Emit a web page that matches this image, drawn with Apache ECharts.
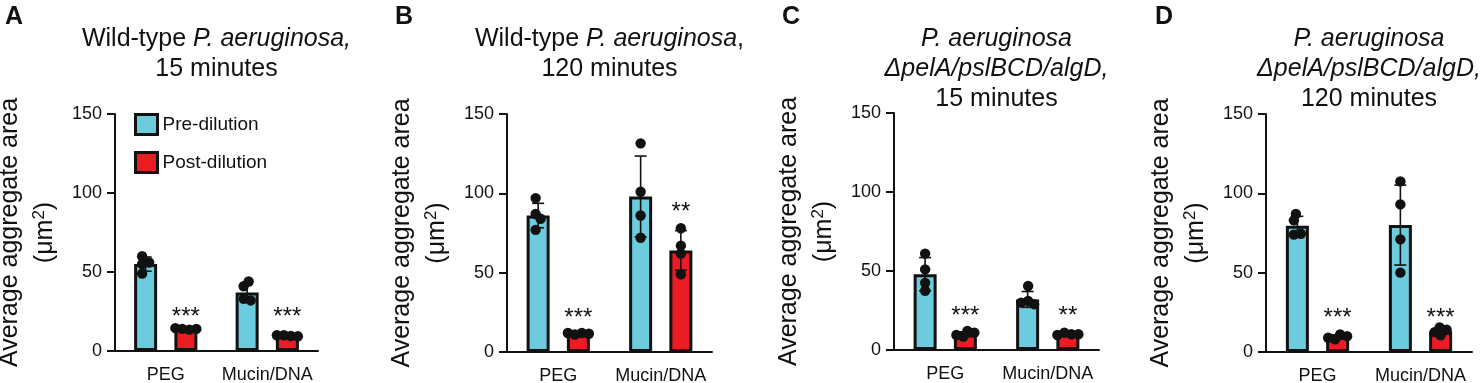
<!DOCTYPE html>
<html>
<head>
<meta charset="utf-8">
<script src="https://cdn.jsdelivr.net/npm/echarts@6/dist/echarts.min.js"></script>
<style>
  html, body { margin: 0; padding: 0; background: #fff; }
  #chart { width: 1482px; height: 383px; }
</style>
</head>
<body>
<div id="chart"></div>
<script>
// ---- data ----
const categories = ['PEG', 'Mucin/DNA'];
const seriesNames = ['Pre-dilution', 'Post-dilution'];

// A: wild-type, 15 min
const aPreMean = [55, 37];
const aPreSD = [4.5, 5.5];
const aPrePts = [[60, 55, 56, 49], [41, 44, 33, 32]];
const aPostMean = [14, 9.7];
const aPostSD = [0.5, 0.5];
const aPostPts = [[14, 13.5, 14.5, 14], [10, 9.5, 10, 9.3]];
const aSig = ['***', '***'];
const aSigY = [23, 23];

// B: wild-type, 120 min
const bPreMean = [86, 98];
const bPreSD = [7.7, 25.5];
const bPrePts = [[97, 87, 84, 77], [131.5, 101, 86, 72]];
const bPostMean = [11.5, 64];
const bPostSD = [0.6, 12.5];
const bPostPts = [[11, 12, 12, 11.5], [78, 67, 62, 49]];
const bSig = ['***', '**'];
const bSigY = [23, 90];

// C: triple mutant, 15 min
const cPreMean = [48, 32];
const cPreSD = [10.5, 5];
const cPrePts = [[61, 51, 42.5, 37.5], [40.5, 31, 29, 30]];
const cPostMean = [10, 10];
const cPostSD = [1.5, 0.6];
const cPostPts = [[12, 11, 8.5, 9.5], [11, 10, 9.5, 10]];
const cSig = ['***', '**'];
const cSigY = [23, 23];

// D: triple mutant, 120 min
const dPreMean = [79.5, 80];
const dPreSD = [6, 25.2];
const dPrePts = [[83, 87, 74, 74.5], [107.5, 93, 71, 50]];
const dPostMean = [9.5, 13];
const dPostSD = [1.3, 2];
const dPostPts = [[11, 10, 8, 9], [15.5, 14, 12.5, 10.5]];
const dSig = ['***', '***'];
const dSigY = [23, 23];

const yMax = 150;
const yStep = 50;

// ---- styles / layout ----
const FONT = 'Liberation Sans, Arial, sans-serif';
const INK = '#111';
const CYAN = '#6ccbdc';
const RED = '#ec1c24';
const BAR_W = 23;
const BAR_GAP = 0.75;
const SHIFT = BAR_W * (1 + BAR_GAP) / 2;
const DOT_R = 5.2;
const DOT_MIN = 6.5;

const panels = [
  { letter: 'A', grid: { left: 115, top: 114, width: 203, height: 237 }, letterX: 5,
    title: '{t|Wild-type }{i|P. aeruginosa,}\n{t|15 minutes}',
    preMean: aPreMean, preSD: aPreSD, prePts: aPrePts, postMean: aPostMean, postSD: aPostSD, postPts: aPostPts, sig: aSig, sigY: aSigY },
  { letter: 'B', grid: { left: 507, top: 114, width: 205, height: 238 }, letterX: 395,
    title: '{t|Wild-type }{i|P. aeruginosa}{t|,}\n{t|120 minutes}',
    preMean: bPreMean, preSD: bPreSD, prePts: bPrePts, postMean: bPostMean, postSD: bPostSD, postPts: bPostPts, sig: bSig, sigY: bSigY },
  { letter: 'C', grid: { left: 894, top: 113, width: 205, height: 237 }, letterX: 782,
    title: '{i|P. aeruginosa}\n{i|\u0394pelA/pslBCD/algD,}\n{t|15 minutes}',
    preMean: cPreMean, preSD: cPreSD, prePts: cPrePts, postMean: cPostMean, postSD: cPostSD, postPts: cPostPts, sig: cSig, sigY: cSigY },
  { letter: 'D', grid: { left: 1266, top: 114, width: 206, height: 238 }, letterX: 1155,
    title: '{i|P. aeruginosa}\n{i|\u0394pelA/pslBCD/algD,}\n{t|120 minutes}',
    preMean: dPreMean, preSD: dPreSD, prePts: dPrePts, postMean: dPostMean, postSD: dPostSD, postPts: dPostPts, sig: dSig, sigY: dSigY }
];

function marks(p, i) {
  const data = [];
  categories.forEach((c, ci) => {
    data.push([ci, 0, p.preMean[ci], p.preSD[ci]]);
    data.push([ci, 1, p.postMean[ci], p.postSD[ci]]);
  });
  return {
    type: 'custom',
    xAxisIndex: i,
    yAxisIndex: i,
    z: 5,
    silent: true,
    data: data,
    renderItem: function (params, api) {
      const ci = api.value(0), g = api.value(1);
      const mean = api.value(2), sd = api.value(3);
      const pts = (g === 0 ? p.prePts : p.postPts)[ci];
      const cx = api.coord([ci, 0])[0] + (g === 0 ? -SHIFT : SHIFT);
      const yTop = api.coord([ci, mean + sd])[1];
      const yBot = api.coord([ci, mean - sd])[1];
      const ls = { stroke: INK, lineWidth: 1.6 };
      const kids = [
        { type: 'line', shape: { x1: cx, y1: yTop, x2: cx, y2: yBot }, style: ls },
        { type: 'line', shape: { x1: cx - 6, y1: yTop, x2: cx + 6, y2: yTop }, style: ls },
        { type: 'line', shape: { x1: cx - 6, y1: yBot, x2: cx + 6, y2: yBot }, style: ls }
      ];
      // simple beeswarm so overlapping dots spread sideways
      const placed = [];
      pts.forEach(function (v) {
        const y = api.coord([ci, v])[1];
        let dx = 0;
        for (let k = 0; k < 60; k++) {
          const cand = k === 0 ? 0 : (k % 2 ? 1 : -1) * Math.ceil(k / 2);
          const ok = placed.every(function (q) {
            return Math.hypot(q[0] - cand, q[1] - y) >= DOT_MIN;
          });
          if (ok) { dx = cand; break; }
        }
        placed.push([dx, y]);
      });
      const xs = placed.map(q => q[0]);
      const mid = (Math.min.apply(null, xs) + Math.max.apply(null, xs)) / 2;
      placed.forEach(function (q) {
        kids.push({ type: 'circle', shape: { cx: cx + q[0] - mid, cy: q[1], r: DOT_R }, style: { fill: INK } });
      });
      if (g === 1 && p.sig[ci]) {
        const sp = api.coord([ci, p.sigY[ci]]);
        kids.push({
          type: 'text',
          x: cx, y: sp[1] + 3,
          style: { text: p.sig[ci], font: '24px ' + FONT, fill: INK, align: 'center', verticalAlign: 'middle' }
        });
      }
      return { type: 'group', children: kids };
    }
  };
}

const option = {
  animation: false,
  backgroundColor: '#fff',
  textStyle: { fontFamily: FONT },
  title: [],
  legend: {
    data: seriesNames,
    orient: 'vertical',
    left: 134,
    top: 113,
    padding: 0,
    itemGap: 15,
    itemWidth: 22,
    itemHeight: 20,
    icon: 'rect',
    itemStyle: { borderColor: INK, borderWidth: 3 },
    textStyle: { fontSize: 19, color: INK, fontFamily: FONT }
  },
  grid: [],
  xAxis: [],
  yAxis: [],
  series: []
};

panels.forEach(function (p, i) {
  option.grid.push(Object.assign({ outerBoundsMode: 'none', containLabel: false }, p.grid));
  option.title.push({
    text: p.letter, left: p.letterX, top: 5, padding: 0,
    textStyle: { fontSize: 25, fontWeight: 'bold', color: INK, fontFamily: FONT }
  });
  option.title.push({
    text: p.title,
    left: p.grid.left + p.grid.width / 2,
    textAlign: 'center',
    top: 24,
    padding: 0,
    textStyle: {
      fontSize: 25, lineHeight: 30, color: INK, fontFamily: FONT, fontWeight: 'normal',
      rich: {
        t: { fontSize: 25, lineHeight: 30, color: INK, fontFamily: FONT },
        i: { fontSize: 25, lineHeight: 30, color: INK, fontFamily: FONT, fontStyle: 'italic' }
      }
    }
  });
  option.xAxis.push({
    type: 'category',
    gridIndex: i,
    data: categories,
    axisLine: { lineStyle: { color: INK, width: 2 } },
    axisTick: { alignWithLabel: true, length: 9, lineStyle: { color: INK, width: 2 } },
    axisLabel: { interval: 0, fontSize: 18, color: INK, margin: 15, fontFamily: FONT },
    splitLine: { show: false }
  });
  option.yAxis.push({
    type: 'value',
    gridIndex: i,
    min: 0,
    max: yMax,
    interval: yStep,
    name: 'Average aggregate area\n(\u03bcm{s|2})',
    nameLocation: 'middle',
    nameRotate: 90,
    nameGap: 52,
    nameTextStyle: {
      fontSize: 25, lineHeight: 35, color: INK, fontFamily: FONT,
      rich: { s: { fontSize: 17, verticalAlign: 'top', padding: [3, 0, 0, 0], color: INK, fontFamily: FONT } }
    },
    axisLine: { show: true, lineStyle: { color: INK, width: 2 } },
    axisTick: { show: true, length: 8, lineStyle: { color: INK, width: 2 } },
    axisLabel: { fontSize: 18, color: INK, margin: 13, fontFamily: FONT },
    splitLine: { show: false }
  });
  option.series.push({
    name: seriesNames[0], type: 'bar', xAxisIndex: i, yAxisIndex: i,
    data: p.preMean, barWidth: BAR_W, barGap: (BAR_GAP * 100) + '%',
    itemStyle: { color: CYAN, borderColor: INK, borderWidth: 3 }
  });
  option.series.push({
    name: seriesNames[1], type: 'bar', xAxisIndex: i, yAxisIndex: i,
    data: p.postMean, barWidth: BAR_W, barGap: (BAR_GAP * 100) + '%',
    itemStyle: { color: RED, borderColor: INK, borderWidth: 3 }
  });
  option.series.push(marks(p, i));
});

const chart = echarts.init(document.getElementById('chart'), null, { renderer: 'canvas' });
chart.setOption(option);
</script>
</body>
</html>
